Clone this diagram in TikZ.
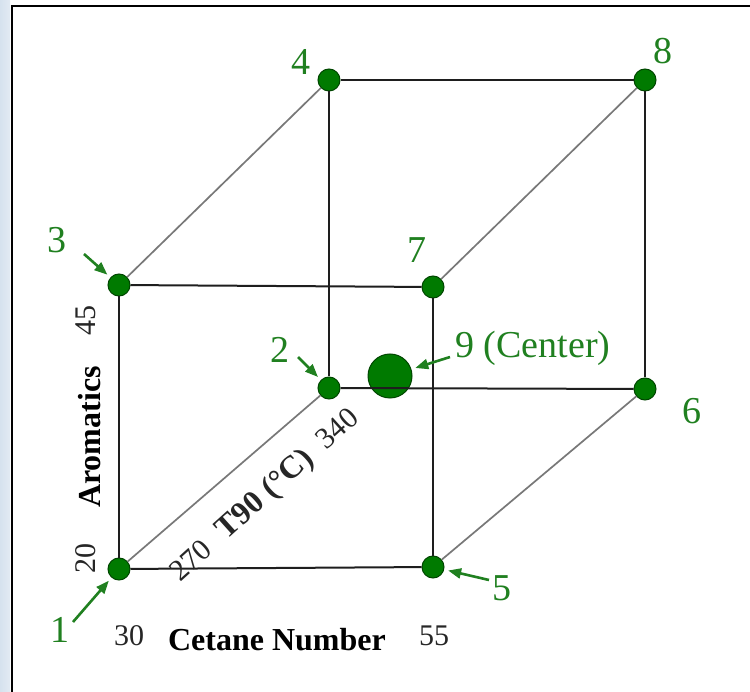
\documentclass[tikz,border=0pt]{standalone}
\usepackage{fontspec}
\setmainfont{Liberation Serif}
\usetikzlibrary{arrows.meta}
\definecolor{dotgreen}{RGB}{0,122,0}
\definecolor{dotedge}{RGB}{0,70,0}
\definecolor{lblgreen}{RGB}{32,128,32}
\definecolor{stripcol}{RGB}{214,226,238}
\definecolor{edgecol}{RGB}{30,30,30}
\definecolor{diagcol}{RGB}{120,120,120}
\begin{document}
\begin{tikzpicture}[x=1pt,y=-1pt,
  dot/.style={circle,fill=dotgreen,draw=dotedge,line width=1pt,minimum size=22pt,inner sep=0pt},
  bigdot/.style={dot,minimum size=44pt},
  edge/.style={draw=edgecol,line width=2pt},
  diag/.style={draw=diagcol,line width=1.7pt},
  glabel/.style={text=lblgreen,font=\fontsize{38}{44}\selectfont,inner sep=0pt},
  nlabel/.style={text=black!85,font=\fontsize{30}{34}\selectfont,inner sep=0pt},
  blabel/.style={text=black,font=\fontsize{32}{36}\selectfont\bfseries,inner sep=0pt},
  garrow/.style={draw=lblgreen,line width=2.6pt,-{Triangle[length=13pt,width=10pt]},shorten >=4pt}
]
\useasboundingbox (0,0) rectangle (750,692);
% background
\fill[white] (0,0) rectangle (750,692);
\shade[left color=stripcol,right color=stripcol!70!white] (0,0) rectangle (10,692);
\draw[black,line width=2pt] (11.5,692) -- (11.5,6.5) -- (750,6.5);

% cube vertices
\node[dot] (n1) at (119,569) {};
\node[dot] (n2) at (329,388) {};
\node[dot] (n3) at (119,285) {};
\node[dot] (n4) at (329,80) {};
\node[dot] (n5) at (433,567) {};
\node[dot] (n6) at (645,389) {};
\node[dot] (n7) at (433,287) {};
\node[dot] (n8) at (645,80) {};
\node[bigdot] (n9) at (390,376) {};

% edges
\draw[diag] (n1) -- (n2);
\draw[diag] (n3) -- (n4);
\draw[diag] (n5) -- (n6);
\draw[diag] (n7) -- (n8);
\draw[edge] (n1) -- (n5);
\draw[edge] (n5) -- (n7);
\draw[edge] (n7) -- (n3);
\draw[edge] (n3) -- (n1);
\draw[edge] (n2) -- (n6);
\draw[edge] (n6) -- (n8);
\draw[edge] (n8) -- (n4);
\draw[edge] (n4) -- (n2);

% green labels
\node[glabel] (l4) at (301,62) {4};
\node[glabel] (l8) at (663,51) {8};
\node[glabel] (l3) at (57,240) {3};
\node[glabel] (l7) at (417,250) {7};
\node[glabel] (l2) at (280,350) {2};
\node[glabel,anchor=west] (l9) at (455,348) {9 (Center)};
\node[glabel] (l6) at (692,411) {6};
\node[glabel] (l5) at (502,588) {5};
\node[glabel] (l1) at (60,630) {1};

% green arrows
\coordinate (a3) at (84,254);
\coordinate (a2) at (298,357);
\coordinate (a9) at (450,357);
\coordinate (a5) at (489,580);
\coordinate (a1) at (73,622);
\draw[garrow] (a3) -- (n3);
\draw[garrow] (a2) -- (n2);
\draw[garrow] (a9) -- (n9);
\draw[garrow] (a5) -- (n5);
\draw[garrow] (a1) -- (n1);

% axis labels
\node[nlabel,rotate=90] (t45) at (86,321) {45};
\node[blabel,rotate=90] (tar) at (90,437) {Aromatics};
\node[nlabel,rotate=90] (t20) at (86,558) {20};
\node[nlabel,rotate=42] (tdiag) at (265,496) {270\hspace{18pt}\textbf{\fontsize{32}{36}\selectfont T90 (°C)}\hspace{16pt}340};
\node[nlabel] (t30) at (129,636) {30};
\node[blabel] (tcn) at (277,640) {Cetane Number};
\node[nlabel] (t55) at (434,636) {55};
\end{tikzpicture}
\end{document}
